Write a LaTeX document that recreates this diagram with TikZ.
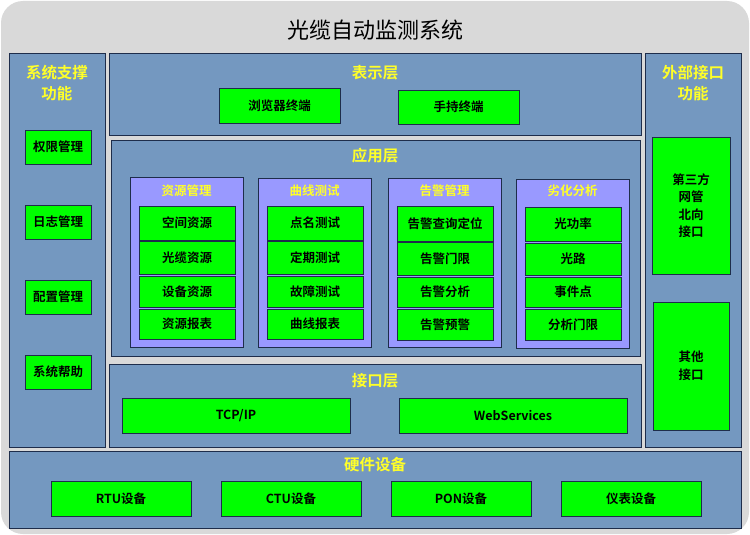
\documentclass[tikz,border=0pt]{standalone}
\usepackage{fontspec}
\setmainfont{Noto Sans CJK SC}
\newfontfamily\cjkb{Noto Sans CJK SC Bold}
\definecolor{bggray}{RGB}{217,217,217}
\definecolor{panelblue}{RGB}{116,152,192}
\definecolor{lav}{RGB}{153,153,255}
\definecolor{gr}{RGB}{0,255,0}
\definecolor{edge}{RGB}{30,45,75}
\definecolor{ytxt}{RGB}{255,255,40}
\tikzset{
  panel/.style={draw=edge, line width=0.8pt, fill=panelblue, inner sep=0pt},
  grp/.style={draw=edge, line width=0.8pt, fill=lav, inner sep=0pt},
  gbox/.style={draw=edge, line width=0.8pt, fill=gr, inner sep=0pt, font=\cjkb\fontsize{12.5}{17.5}\selectfont, align=center},
  ytitle/.style={text=ytxt, font=\cjkb\fontsize{15.5}{21}\selectfont, align=center, inner sep=0pt},
  gtitle/.style={text=ytxt, font=\cjkb\fontsize{12.5}{14}\selectfont, inner sep=0pt},
}
\newcommand\bx[7]{%
  \node[#1, minimum width={(#5-#3)*1pt}, minimum height={(#6-#4)*1pt}] (#2) at ({(#3+#5)/2},{(#4+#6)/2}) {#7};}
\begin{document}
\begin{tikzpicture}[x=1pt,y=-1pt]
\useasboundingbox (0,0) rectangle (750,535);
\fill[white] (0,0) rectangle (750,535);
\node[fill=bggray, rounded corners=22pt, minimum width=748pt, minimum height=533pt, inner sep=0pt] (bg) at (375,267.5) {};
\node[font=\fontsize{22}{24}\selectfont] (title) at (375,30) {光缆自动监测系统};
% left panel
\bx{panel}{left}{9}{53}{105}{447}{}
\node[ytitle] (lefttitle) at (57,83) {系统支撑\\功能};
\bx{gbox}{l1}{25}{130}{91}{164}{权限管理}
\bx{gbox}{l2}{25}{205}{91}{239}{日志管理}
\bx{gbox}{l3}{25}{280}{91}{314}{配置管理}
\bx{gbox}{l4}{25}{355}{91}{389}{系统帮助}
% right panel
\bx{panel}{right}{645}{53}{741}{447}{}
\node[ytitle] (righttitle) at (693,83) {外部接口\\功能};
\bx{gbox}{r1}{652}{137}{730}{274}{第三方\\网管\\北向\\接口}
\bx{gbox}{r2}{653}{302}{729}{430}{其他\\接口}
% presentation layer
\bx{panel}{pres}{109}{53}{641}{135}{}
\node[ytitle] (prest) at (375,73) {表示层};
\bx{gbox}{p1}{219}{88}{340}{123}{浏览器终端}
\bx{gbox}{p2}{398}{90}{519}{124}{手持终端}
% application layer
\bx{panel}{app}{111}{140}{640}{356}{}
\node[ytitle] (appt) at (375,156) {应用层};
\bx{grp}{g1}{130}{177}{243}{347}{}
\node[gtitle] (g1t) at (186.5,191) {资源管理};
\bx{gbox}{a11}{139}{206}{235}{240}{空间资源}
\bx{gbox}{a12}{139}{241}{235}{274}{光缆资源}
\bx{gbox}{a13}{139}{276}{235}{307}{设备资源}
\bx{gbox}{a14}{139}{309}{235}{339}{资源报表}
\bx{grp}{g2}{258}{178}{371}{347}{}
\node[gtitle] (g2t) at (314.5,191) {曲线测试};
\bx{gbox}{a21}{267}{206}{363}{240}{点名测试}
\bx{gbox}{a22}{267}{241}{363}{274}{定期测试}
\bx{gbox}{a23}{267}{276}{363}{307}{故障测试}
\bx{gbox}{a24}{267}{309}{363}{339}{曲线报表}
\bx{grp}{g3}{388}{178}{501}{347}{}
\node[gtitle] (g3t) at (444.5,191) {告警管理};
\bx{gbox}{a31}{397}{206}{493}{241}{告警查询定位}
\bx{gbox}{a32}{397}{242}{493}{275}{告警门限}
\bx{gbox}{a33}{397}{277}{493}{307}{告警分析}
\bx{gbox}{a34}{397}{309}{493}{340}{告警预警}
\bx{grp}{g4}{516}{179}{629}{348}{}
\node[gtitle] (g4t) at (572.5,191) {劣化分析};
\bx{gbox}{a41}{525}{207}{621}{241}{光功率}
\bx{gbox}{a42}{525}{243}{621}{275}{光路}
\bx{gbox}{a43}{525}{277}{621}{307}{事件点}
\bx{gbox}{a44}{525}{309}{621}{340}{分析门限}
% interface layer
\bx{panel}{intf}{109}{364}{641}{447}{}
\node[ytitle] (intft) at (375,381) {接口层};
\bx{gbox}{i1}{122}{398}{350}{433}{TCP/IP}
\bx{gbox}{i2}{399}{398}{627}{433}{WebServices}
% hardware
\bx{panel}{hw}{9}{451}{741}{528}{}
\node[ytitle] (hwt) at (375,465) {硬件设备};
\bx{gbox}{h1}{51}{481}{191}{516}{RTU设备}
\bx{gbox}{h2}{221}{481}{361}{516}{CTU设备}
\bx{gbox}{h3}{391}{481}{531}{516}{PON设备}
\bx{gbox}{h4}{561}{481}{701}{516}{仪表设备}
\end{tikzpicture}
\end{document}
